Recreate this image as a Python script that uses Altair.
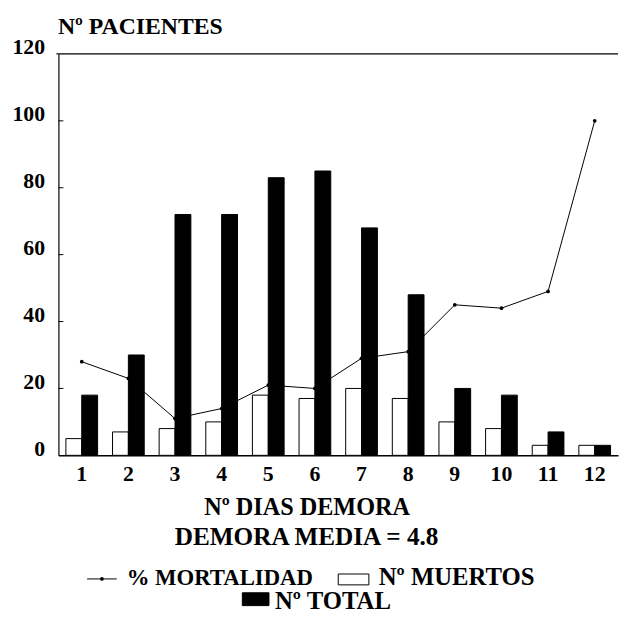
import altair as alt
import pandas as pd

# ---- data ----
dias = list(range(1, 13))
muertos = [5, 7, 8, 10, 18, 17, 20, 17, 10, 8, 3, 3]
total = [18, 30, 72, 72, 83, 85, 68, 48, 20, 18, 7, 3]
mortalidad = [28, 23, 11, 14, 21, 20, 29, 31, 45, 44, 49, 100]
y_ticks = [0, 20, 40, 60, 80, 100, 120]
inner_ticks = [20, 40, 60, 80, 100]
series = ["Nº MUERTOS", "Nº TOTAL"]

FONT = "Liberation Serif"

bars_df = pd.DataFrame({
    "dia": dias * 2,
    "serie": [series[0]] * len(dias) + [series[1]] * len(dias),
    "valor": muertos + total,
})
line_df = pd.DataFrame({"dia": dias, "pct": mortalidad})

W, H = 566, 406
xscale = alt.Scale(domain=dias, paddingInner=0.32, paddingOuter=0.16)
yscale = alt.Scale(domain=[0, 120], nice=False, zero=True)

xaxis = alt.Axis(
    title="Nº DIAS DEMORA", labelAngle=0, ticks=False, grid=False,
    domain=True, domainColor="black", domainWidth=1.5,
    labelFont=FONT, labelFontWeight="bold", labelFontSize=22, labelColor="black",
    labelPadding=8,
    titleFont=FONT, titleFontWeight="bold", titleFontSize=24.5, titleColor="black",
    titleX=251, titleY=60, titleAlign="center", titleBaseline="alphabetic")
yaxis = alt.Axis(
    values=y_ticks, ticks=False, grid=False, domain=True, domainColor="black",
    domainWidth=1.2,
    labelFont=FONT, labelFontWeight="bold", labelFontSize=22, labelColor="black",
    labelPadding=14, labelBaseline="alphabetic", labelOverlap=False,
    title="Nº PACIENTES", titleAngle=0, titleAlign="left", titleBaseline="alphabetic",
    titleX=-1, titleY=-21, titleFont=FONT, titleFontWeight="bold",
    titleFontSize=24, titleColor="black")

bars = alt.Chart(bars_df).mark_bar(stroke="black", strokeWidth=1).encode(
    x=alt.X("dia:O", scale=xscale, axis=xaxis),
    xOffset=alt.XOffset("serie:N", scale=alt.Scale(domain=series, paddingInner=0, paddingOuter=0)),
    y=alt.Y("valor:Q", scale=yscale, axis=yaxis),
    fill=alt.Fill("serie:N", scale=alt.Scale(domain=series, range=["white", "black"]), legend=None),
)

line = alt.Chart(line_df).mark_line(
    color="black", strokeWidth=1,
    point=alt.OverlayMarkDef(filled=True, size=14, color="black"),
).encode(
    x=alt.X("dia:O", scale=xscale, axis=xaxis),
    y=alt.Y("pct:Q", scale=yscale, axis=yaxis),
)

top_rule = alt.Chart(pd.DataFrame({"y": [y_ticks[-1]]})).mark_rule(
    color="black", strokeWidth=1.2).encode(
    y=alt.Y("y:Q", scale=yscale, axis=yaxis), x=alt.value(-2), x2=alt.value(W))

tick_rules = alt.Chart(pd.DataFrame({"t": inner_ticks})).mark_rule(
    color="black", strokeWidth=1).encode(
    y=alt.Y("t:Q", scale=yscale, axis=yaxis), x=alt.value(0), x2=alt.value(5))


def txt(label, x, y, align="left", size=25):
    return alt.Chart(pd.DataFrame({"t": [label]})).mark_text(
        align=align, baseline="alphabetic", font=FONT, fontWeight="bold",
        fontSize=size, color="black").encode(
        text="t:N", x=alt.value(x), y=alt.value(y))


sub = txt("DEMORA MEDIA = 4.8", 251, 497, align="center", size=25.5)
leg_mort = txt("% MORTALIDAD", 69, 537, size=23)
leg_muer = txt("Nº MUERTOS", 324, 537)
leg_tot = txt("Nº TOTAL", 219, 561)

leg_line = alt.Chart(pd.DataFrame({"k": [0]})).mark_rule(color="black", strokeWidth=1).encode(
    x=alt.value(29), x2=alt.value(59), y=alt.value(531))
leg_dot = alt.Chart(pd.DataFrame({"k": [0]})).mark_point(
    filled=True, size=14, color="black", opacity=1).encode(
    x=alt.value(44), y=alt.value(531))
leg_box_w = alt.Chart(pd.DataFrame({"k": [0]})).mark_rect(
    fill="white", stroke="black", strokeWidth=1).encode(
    x=alt.value(283), x2=alt.value(314), y=alt.value(526), y2=alt.value(537))
leg_box_b = alt.Chart(pd.DataFrame({"k": [0]})).mark_rect(
    fill="black", stroke="black", strokeWidth=1).encode(
    x=alt.value(186), x2=alt.value(213), y=alt.value(545), y2=alt.value(558))

chart = alt.layer(
    bars, top_rule, tick_rules, line,
    sub, leg_line, leg_dot, leg_mort, leg_box_w, leg_muer, leg_box_b, leg_tot,
).properties(
    width=W, height=H,
    padding={"left": 51, "top": 43, "right": 2, "bottom": 156},
    autosize=alt.AutoSizeParams(type="none"),
    background="white",
).configure_view(stroke=None)

chart.save("out.html", embed_options={"renderer": "svg", "actions": False})
